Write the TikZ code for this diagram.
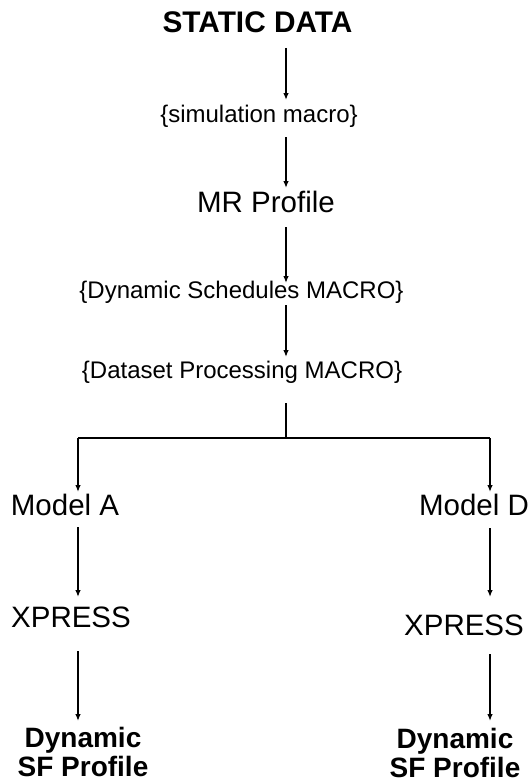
\documentclass[tikz,border=0pt]{standalone}
\usepackage{fontspec}
\setmainfont{Liberation Sans}
\usetikzlibrary{arrows.meta,calc}
\tikzset{
  big/.style={font=\fontsize{29.5}{33}\selectfont, inner sep=0pt, anchor=base},
  bigbold/.style={font=\fontsize{29.8}{33}\selectfont\bfseries, inner sep=0pt, anchor=base},
  small/.style={font=\fontsize{24}{28}\selectfont, inner sep=0pt, anchor=base},
  result/.style={font=\fontsize{28}{29.5}\selectfont\bfseries, inner sep=0pt, anchor=north, align=center},
  arr/.style={line width=1.3pt, -{Latex[length=7pt,width=5.5pt]}},
  stub/.style={line width=2pt},
  hline/.style={line width=1.8pt},
}
\begin{document}
\begin{tikzpicture}[x=1pt,y=-1pt]
\useasboundingbox[fill=white] (0,0) rectangle (531,784);
\coordinate (spine) at (286,0);
\coordinate (lx) at (78,0);
\coordinate (rx) at (490,0);

\node[bigbold] (static) at (257.5,33) {STATIC DATA};
\node[small] (sim) at (259,122) {\{simulation macro\}};
\node[big] (mr) at (266,212) {MR Profile};
\node[small] (dyn) at (241.5,298) {\{Dynamic Schedules MACRO\}};
\node[small] (data) at (242,378) {\{Dataset Processing MACRO\}};
\coordinate (junction) at (286,438);
\coordinate (lcorner) at (78,438);
\coordinate (rcorner) at (490,438);
\node[big] (ma) at (65,515) {Model A};
\node[big] (md) at (474,515) {Model D};
\node[big] (xa) at (71,627) {XPRESS};
\node[big] (xd) at (464,635) {XPRESS};
\node[result] (ra) at (83,727) {Dynamic\\SF Profile};
\node[result] (rd) at (455,728) {Dynamic\\SF Profile};

\draw[arr] ($(static.base -| spine)+(0,15)$) -- ($(sim.base -| spine)+(0,-22)$);
\draw[arr] ($(sim.base -| spine)+(0,15)$) -- ($(mr.base -| spine)+(0,-24)$);
\draw[arr] ($(mr.base -| spine)+(0,15)$) -- ($(dyn.base -| spine)+(0,-15)$);
\draw[arr] ($(dyn.base -| spine)+(0,7)$) -- ($(data.base -| spine)+(0,-21)$);
\draw[stub] ($(data.base -| spine)+(0,25)$) -- (junction);
\draw[hline] (lcorner) -- (rcorner);
\draw[arr] (lcorner) -- ($(ma.base -| lx)+(0,-23)$);
\draw[arr] (rcorner) -- ($(md.base -| rx)+(0,-23)$);
\draw[arr] ($(ma.base -| lx)+(0,12)$) -- ($(xa.base -| lx)+(0,-30)$);
\draw[arr] ($(md.base -| rx)+(0,13)$) -- ($(xd.base -| rx)+(0,-38)$);
\draw[arr] ($(xa.base -| lx)+(0,24)$) -- ($(ra.north -| lx)+(0,-6)$);
\draw[arr] ($(xd.base -| rx)+(0,19)$) -- ($(rd.north -| rx)+(0,-7)$);
\end{tikzpicture}
\end{document}
